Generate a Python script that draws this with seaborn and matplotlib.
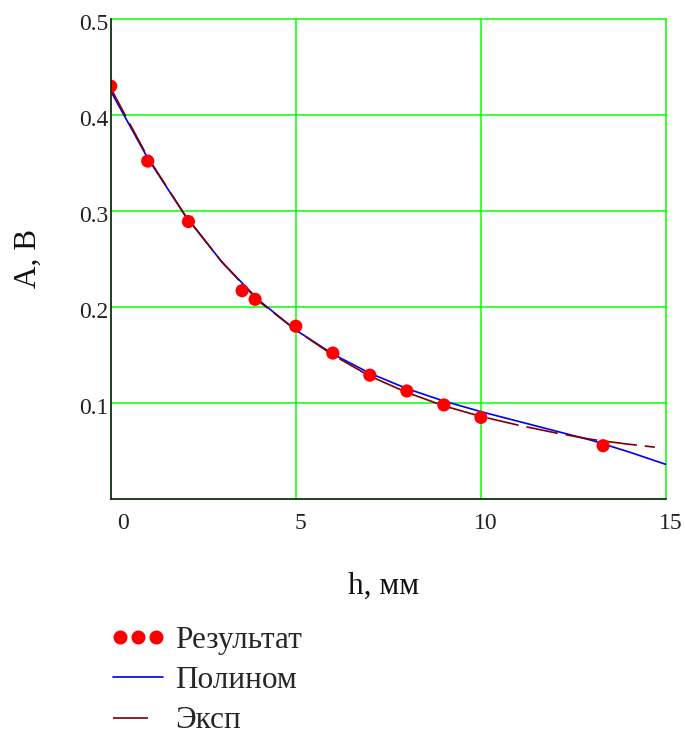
import matplotlib
matplotlib.use("Agg")
import matplotlib.pyplot as plt
import matplotlib.transforms as mtransforms
from matplotlib.lines import Line2D
from matplotlib.legend_handler import HandlerLine2D
import seaborn as sns
import pandas as pd

# measured amplitude vs. distance
h_meas = [0, 1, 2.1, 3.55, 3.9, 5, 6, 7, 8, 9, 10, 13.3]
a_meas = [0.43, 0.352, 0.289, 0.217, 0.208, 0.18, 0.152, 0.129, 0.1125, 0.098, 0.085, 0.0555]

# polynomial fit curve
h_poly = [0, 1, 2, 3, 4, 5, 6, 7, 8, 9, 10, 11, 12, 13, 14, 15]
a_poly = [0.425, 0.355, 0.296, 0.247, 0.207, 0.176, 0.151, 0.131, 0.115, 0.102,
          0.091, 0.081, 0.071, 0.061, 0.049, 0.036]

# exponential fit curve
h_exp = [0, 1, 2, 3, 4, 5, 6, 7, 8, 9, 10, 11, 12, 13, 14, 14.7]
a_exp = [0.428, 0.356, 0.296, 0.247, 0.206, 0.176, 0.150, 0.128, 0.111, 0.097,
         0.086, 0.077, 0.069, 0.062, 0.057, 0.054]

x_ticks = [0, 5, 10, 15]
y_ticks = [0, 0.1, 0.2, 0.3, 0.4, 0.5]
y_tick_labels = ["", "0.1", "0.2", "0.3", "0.4", "0.5"]

labels = ["Результат", "Полином", "Эксп"]

sns.set_style("white")
plt.rcParams["font.family"] = ["Liberation Serif", "DejaVu Serif"]

PX = 72 / 100  # points per pixel at 100 dpi
BIG = 22.5     # axis titles and legend
SMALL = 17     # tick labels

fig = plt.figure(figsize=(6.85, 7.36), dpi=100)
W, H = 685, 736
x0, x1, ytop, ybot = 110.7, 666.0, 19.0, 499.0
ax = fig.add_axes([x0 / W, 1 - ybot / H, (x1 - x0) / W, (ybot - ytop) / H])

df_meas = pd.DataFrame({"h": h_meas, "A": a_meas})
df_poly = pd.DataFrame({"h": h_poly, "A": a_poly})
df_exp = pd.DataFrame({"h": h_exp, "A": a_exp})

BLUE, DARKRED, RED = "#0000ff", "#800000", "#ff0000"
lw = 1.7 * PX
dash_style = (0, (32 * PX / lw, 8 * PX / lw))

sns.lineplot(data=df_poly, x="h", y="A", ax=ax, color=BLUE, lw=lw,
             sort=False, zorder=3)
sns.lineplot(data=df_exp, x="h", y="A", ax=ax, color=DARKRED, lw=lw,
             sort=False, zorder=4, linestyle=dash_style)
sns.scatterplot(data=df_meas, x="h", y="A", ax=ax, color=RED, s=90,
                edgecolor="none", linewidth=0, zorder=5)

ax.set_xlim(0, 15)
ax.set_ylim(0, 0.5)

ax.set_xticks(x_ticks)
ax.set_yticks(y_ticks)
ax.set_yticklabels(y_tick_labels)
ax.set_xticklabels([str(t) for t in x_ticks])

ax.grid(True, color="#00ff00", lw=1.5 * PX, zorder=1)
ax.set_axisbelow(True)
for gl in ax.get_xgridlines() + ax.get_ygridlines():
    gl.set_clip_on(False)

for side in ("top", "right"):
    ax.spines[side].set_visible(False)
for side in ("left", "bottom"):
    ax.spines[side].set_color("#1a1a1a")
    ax.spines[side].set_linewidth(1.6 * PX)
    ax.spines[side].set_zorder(6)

ax.tick_params(axis="both", direction="inout", length=8, width=1.5 * PX,
               color="#1a1a1a", labelsize=SMALL, labelcolor="#222222")
ax.tick_params(axis="x", pad=6)
ax.tick_params(axis="y", pad=-2.5)

# Mathcad-like label placement: x labels nudged right, y labels nudged down
for i, lab in enumerate(ax.get_xticklabels()):
    dx = 12 if i == 0 else 5
    lab.set_transform(lab.get_transform() +
                      mtransforms.ScaledTranslation(dx / 100, 0, fig.dpi_scale_trans))
for lab in ax.get_yticklabels():
    lab.set_transform(lab.get_transform() +
                      mtransforms.ScaledTranslation(0, -3 / 100, fig.dpi_scale_trans))

ax.set_xlabel("")
ax.set_ylabel("")
if ax.get_legend() is not None:
    ax.get_legend().remove()

fig.text(384 / W, 1 - 586 / H, "h, мм", ha="center", va="center", fontsize=BIG,
         color="#111111")
fig.text(28 / W, 1 - 259 / H, "A, B", ha="center", va="center", fontsize=BIG,
         rotation=90, color="#111111")

dots = Line2D([], [], linestyle="none", marker="o", markersize=14 * PX,
              markerfacecolor=RED, markeredgecolor="none")
poly_line = Line2D([], [], color=BLUE, lw=lw)
exp_line = Line2D([], [], color=DARKRED, lw=lw,
                  linestyle=(0, (35 * PX / lw, 30 * PX / lw)))
fig.legend([dots, poly_line, exp_line], labels, loc="upper left",
           bbox_to_anchor=(113 / W, 1 - 626 / H), frameon=False,
           fontsize=BIG, numpoints=3, handlelength=1.6, handletextpad=0.4,
           labelspacing=0.36, borderaxespad=0, borderpad=0,
           handler_map={poly_line: HandlerLine2D(marker_pad=0),
                        exp_line: HandlerLine2D(marker_pad=0),
                        dots: HandlerLine2D(marker_pad=0.22)})

fig.savefig("out.png", dpi=100)
